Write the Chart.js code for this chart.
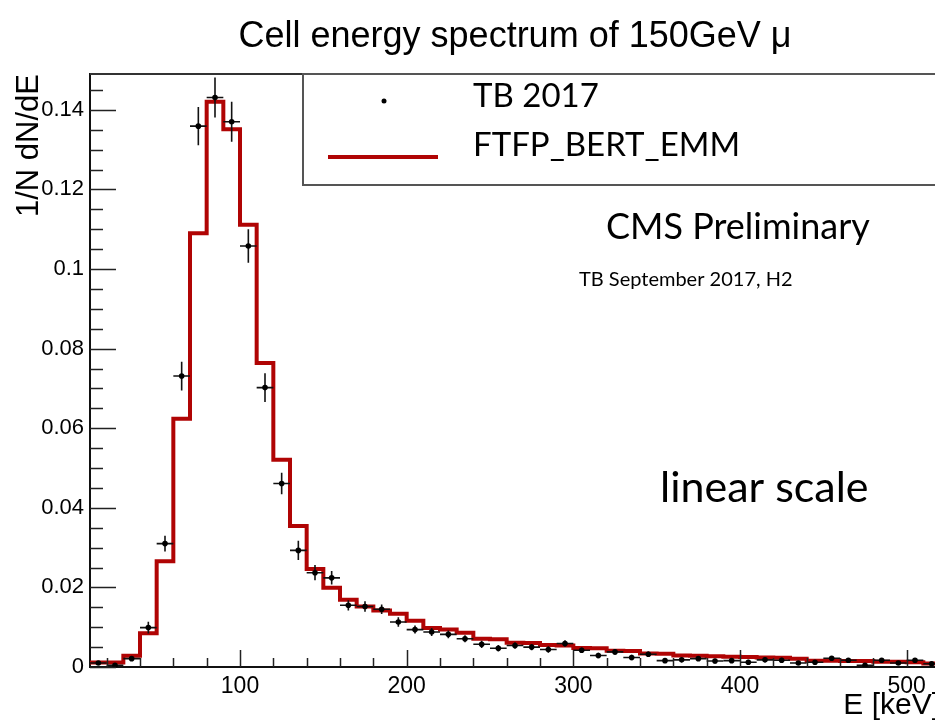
<!DOCTYPE html>
<html>
<head>
<meta charset="utf-8">
<script src="https://cdn.jsdelivr.net/npm/chart.js@4.4.1/dist/chart.umd.min.js"></script>
<style>
  html, body { margin: 0; padding: 0; overflow: hidden; background: #fff; width: 935px; height: 724px; }
  canvas { display: block; }
</style>
</head>
<body>
<canvas id="c" width="1000" height="724"></canvas>
<script>
// ---------- data ----------
const titleText = 'Cell energy spectrum of 150GeV \u03bc';
const xAxisTitle = 'E [keV]';
const yAxisTitle = '1/N dN/dE';
const seriesLabels = ['TB 2017', 'FTFP_BERT_EMM'];
const noteTexts = ['CMS Preliminary', 'TB September 2017, H2', 'linear scale'];

const xTickValues = [100, 200, 300, 400, 500];
const yTickValues = [0, 0.02, 0.04, 0.06, 0.08, 0.1, 0.12, 0.14];

// simulation histogram: lower bin edges (keV) and contents
const modelBinLow = [10, 20, 30, 40, 50, 60, 70, 80, 90, 100,
  110, 120, 130, 140, 150, 160, 170, 180, 190, 200,
  210, 220, 230, 240, 250, 260, 270, 280, 290, 300,
  310, 320, 330, 340, 350, 360, 370, 380, 390, 400,
  410, 420, 430, 440, 450, 460, 470, 480, 490, 500, 510];
const modelBinUpperEdge = 520;
const modelValues = [0.0011, 0.0011, 0.0028, 0.0085, 0.0266, 0.0624, 0.1090, 0.1420, 0.1351, 0.1111,
  0.0764, 0.0521, 0.0354, 0.0246, 0.0199, 0.0169, 0.0152, 0.0142, 0.0134, 0.0116,
  0.0098, 0.0094, 0.0086, 0.0071, 0.0070, 0.0061, 0.0060, 0.0055, 0.0054, 0.0048,
  0.0047, 0.0041, 0.0040, 0.0034, 0.0033, 0.0029, 0.0028, 0.0027, 0.0026, 0.0025,
  0.0024, 0.0023, 0.0021, 0.0016, 0.0016, 0.0015, 0.0015, 0.0013, 0.0013, 0.0012, 0.0009];

// test-beam data: bin centres (keV), values, vertical errors, horizontal half-width
const dataCenters = [15, 25, 35, 45, 55, 65, 75, 85, 95, 105,
  115, 125, 135, 145, 155, 165, 175, 185, 195, 205,
  215, 225, 235, 245, 255, 265, 275, 285, 295, 305,
  315, 325, 335, 345, 355, 365, 375, 385, 395, 405,
  415, 425, 435, 445, 455, 465, 475, 485, 495, 505, 515];
const dataValues = [0.0010, 0.0004, 0.0021, 0.0099, 0.0310, 0.0731, 0.1359, 0.1431, 0.1370, 0.1058,
  0.0702, 0.0461, 0.0293, 0.0237, 0.0224, 0.0155, 0.0152, 0.0145, 0.0113, 0.0094,
  0.0088, 0.0082, 0.0071, 0.0057, 0.0047, 0.0054, 0.0050, 0.0044, 0.0059, 0.0042,
  0.0029, 0.0038, 0.0024, 0.0032, 0.0016, 0.0018, 0.0021, 0.0015, 0.0016, 0.0012,
  0.0018, 0.0017, 0.0010, 0.0012, 0.0022, 0.0017, 0.0004, 0.0017, 0.0010, 0.0017, 0.0008];
const dataErrors = [0.0003, 0.0003, 0.0006, 0.0015, 0.0020, 0.0036, 0.0048, 0.0050, 0.0050, 0.0042,
  0.0036, 0.0027, 0.0024, 0.0019, 0.0017, 0.0013, 0.0013, 0.0012, 0.0012, 0.0010,
  0.0010, 0.0010, 0.0009, 0.0009, 0.0008, 0.0008, 0.0008, 0.0008, 0.0008, 0.0007,
  0.0007, 0.0007, 0.0007, 0.0007, 0.0006, 0.0006, 0.0006, 0.0006, 0.0006, 0.0006,
  0.0006, 0.0006, 0.0005, 0.0005, 0.0005, 0.0005, 0.0005, 0.0005, 0.0005, 0.0005, 0.0005];
const dataHalfWidth = 5;

// ---------- build library structures ----------
const modelPoints = modelBinLow.map((x, i) => ({ x: x, y: modelValues[i] }));
modelPoints.push({ x: modelBinUpperEdge, y: modelValues[modelValues.length - 1] });
const dataPoints = dataCenters.map((x, i) => ({ x: x, y: dataValues[i], err: dataErrors[i] }));

const RED = '#b00404';
const HELV = '"Liberation Sans", Arial, Helvetica, sans-serif';
const CAL = 'Lato, "Open Sans", sans-serif';

// error bars, drawn under the data markers
const errorBars = {
  id: 'errorBars',
  beforeDatasetDraw(chart, args) {
    if (args.index !== 0) return;
    const ctx = chart.ctx, xs = chart.scales.x, ys = chart.scales.y;
    const area = chart.chartArea;
    ctx.save();
    ctx.beginPath();
    ctx.rect(area.left, area.top, area.right - area.left, area.bottom - area.top);
    ctx.clip();
    ctx.strokeStyle = '#111';
    ctx.lineWidth = 1.6;
    chart.data.datasets[0].data.forEach(p => {
      const px = xs.getPixelForValue(p.x);
      const py = ys.getPixelForValue(p.y);
      const y0 = ys.getPixelForValue(p.y - p.err);
      const y1 = ys.getPixelForValue(p.y + p.err);
      const x0 = xs.getPixelForValue(p.x - dataHalfWidth);
      const x1 = xs.getPixelForValue(p.x + dataHalfWidth);
      ctx.beginPath();
      ctx.moveTo(px, y0); ctx.lineTo(px, y1);
      ctx.moveTo(x0, py); ctx.lineTo(x1, py);
      ctx.stroke();
    });
    ctx.restore();
  }
};

// ROOT-like inner ticks + frame
const frameTicks = {
  id: 'frameTicks',
  afterDatasetsDraw(chart) {
    const ctx = chart.ctx, xs = chart.scales.x, ys = chart.scales.y;
    const a = chart.chartArea;
    ctx.save();
    ctx.strokeStyle = '#222';
    ctx.lineWidth = 1.5;
    ctx.beginPath();
    const yMajor = ys.ticks.map(t => t.value);
    for (let k = 0; k * 0.005 <= ys.max + 1e-9; k++) {
      const v = k * 0.005;
      const isMajor = yMajor.some(m => Math.abs(m - v) < 1e-9);
      const py = Math.round(ys.getPixelForValue(v)) + 0.5;
      ctx.moveTo(a.left, py); ctx.lineTo(a.left + (isMajor ? 26 : 13), py);
    }
    const xMajor = xs.ticks.map(t => t.value);
    for (let v = 20; v <= xs.max; v += 20) {
      if (v < xs.min) continue;
      const isMajor = xMajor.some(m => Math.abs(m - v) < 1e-9);
      const px = Math.round(xs.getPixelForValue(v)) + 0.5;
      ctx.moveTo(px, a.bottom); ctx.lineTo(px, a.bottom - (isMajor ? 17 : 9));
    }
    ctx.stroke();
    ctx.strokeStyle = '#333';
    ctx.lineWidth = 2;
    ctx.beginPath();
    ctx.moveTo(a.left, a.top); ctx.lineTo(a.right, a.top); ctx.lineTo(a.right, a.bottom);
    ctx.stroke();
    ctx.restore();
  }
};

// legend box and annotation texts
const legendAndNotes = {
  id: 'legendAndNotes',
  afterDraw(chart, args, opts) {
    const ctx = chart.ctx;
    const L = opts.legend;
    const ds = chart.data.datasets;
    ctx.save();
    ctx.fillStyle = '#fff';
    ctx.fillRect(L.left, L.top, L.right - L.left, L.bottom - L.top);
    ctx.strokeStyle = '#555';
    ctx.lineWidth = 2;
    ctx.strokeRect(L.left, L.top, L.right - L.left, L.bottom - L.top);
    ctx.font = L.fontSize + 'px ' + CAL;
    ctx.textBaseline = 'alphabetic';
    ctx.textAlign = 'left';
    ctx.beginPath();
    ctx.arc(L.markerX, L.row1Marker, 2.5, 0, Math.PI * 2);
    ctx.fillStyle = ds[0].pointBackgroundColor;
    ctx.fill();
    ctx.fillStyle = '#000';
    ctx.fillText(ds[0].label, L.textX, L.row1Base);
    ctx.strokeStyle = ds[1].borderColor;
    ctx.lineWidth = ds[1].borderWidth;
    ctx.beginPath();
    ctx.moveTo(L.lineX0, L.row2Line); ctx.lineTo(L.lineX1, L.row2Line);
    ctx.stroke();
    ctx.fillText(ds[1].label, L.textX, L.row2Base);
    opts.notes.forEach(n => {
      ctx.font = n.size + 'px ' + CAL;
      ctx.fillStyle = '#000';
      ctx.fillText(n.text, n.x, n.y);
    });
    ctx.restore();
  }
};

const chart = new Chart(document.getElementById('c'), {
  data: {
    datasets: [
      {
        type: 'scatter',
        label: seriesLabels[0],
        data: dataPoints,
        showLine: false,
        pointRadius: 2.8,
        pointHoverRadius: 2.8,
        pointBackgroundColor: '#000',
        pointBorderColor: '#000',
        pointBorderWidth: 0
      },
      {
        type: 'line',
        label: seriesLabels[1],
        data: modelPoints,
        stepped: 'before',
        borderColor: RED,
        borderWidth: 4,
        pointRadius: 0,
        fill: false,
        tension: 0
      }
    ]
  },
  options: {
    responsive: false,
    animation: false,
    events: [],
    layout: { padding: { left: 0, right: 60, top: 0, bottom: 0 } },
    plugins: {
      legend: { display: false },
      tooltip: { enabled: false },
      title: {
        display: true,
        text: titleText,
        fullSize: false,
        color: '#000',
        font: { family: HELV, size: 36, weight: 'normal', lineHeight: 1 },
        padding: { top: 19, bottom: 19 }
      },
      legendAndNotes: {
        legend: { left: 303, top: 74, right: 990, bottom: 185, markerX: 384, row1Marker: 101,
                  row1Base: 107, lineX0: 328, lineX1: 438, row2Line: 157, row2Base: 156,
                  textX: 473, fontSize: 33 },
        notes: [
          { text: noteTexts[0], x: 606, y: 239, size: 36 },
          { text: noteTexts[1], x: 579, y: 286, size: 20 },
          { text: noteTexts[2], x: 660, y: 502, size: 43 }
        ]
      }
    },
    scales: {
      x: {
        type: 'linear',
        position: 'bottom',
        min: 10,
        max: 520,
        afterFit: s => { s.height = 57; },
        afterBuildTicks: s => { s.ticks = xTickValues.map(v => ({ value: v })); },
        grid: { display: false, drawTicks: false },
        border: { display: true, color: '#111', width: 2 },
        ticks: { color: '#000', font: { family: HELV, size: 23 }, padding: 6, maxRotation: 0, autoSkip: false },
        title: { display: true, text: xAxisTitle, align: 'end', color: '#000',
                 font: { family: HELV, size: 30, lineHeight: 1 }, padding: { top: 0, bottom: 3 } }
      },
      y: {
        type: 'linear',
        position: 'left',
        min: 0,
        max: 0.149,
        afterFit: s => { s.width = 90; },
        afterBuildTicks: s => { s.ticks = yTickValues.map(v => ({ value: v })); },
        grid: { display: false, drawTicks: false },
        border: { display: true, color: '#111', width: 2 },
        ticks: { color: '#000', font: { family: HELV, size: 22 }, padding: 6, autoSkip: false,
                 callback: v => String(+v.toFixed(4)) },
        title: { display: true, text: yAxisTitle, align: 'end', color: '#000',
                 font: { family: HELV, size: 31, lineHeight: 1 }, padding: { top: 14, bottom: 0 } }
      }
    }
  },
  plugins: [errorBars, frameTicks, legendAndNotes]
});
</script>
</body>
</html>
